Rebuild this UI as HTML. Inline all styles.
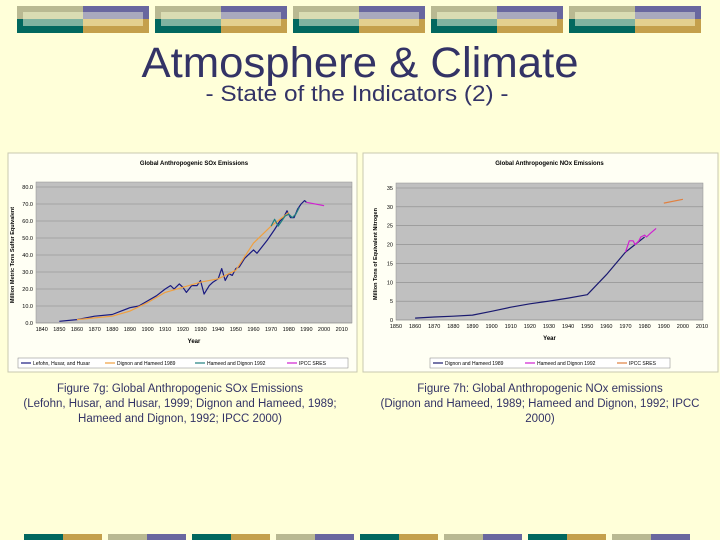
<!DOCTYPE html>
<html><head><meta charset="utf-8"><style>
body{margin:0;background:#ffffd9;}
svg{display:block;font-family:"Liberation Sans",sans-serif;}
</style></head><body>
<svg width="720" height="540" viewBox="0 0 720 540">
<rect width="720" height="540" fill="#ffffd9"/>
<g id="topband"></g>
<g id="botband"></g>
<text x="360" y="77" text-anchor="middle" font-size="43" fill="#333366" textLength="437" lengthAdjust="spacingAndGlyphs">Atmosphere &amp; Climate</text>
<text x="357" y="101" text-anchor="middle" font-size="22" fill="#333366" textLength="303" lengthAdjust="spacingAndGlyphs">- State of the Indicators (2) -</text>

<rect x="8" y="153" width="349" height="219" fill="#fffff4" stroke="#c8c8b0"/>
<rect x="363" y="153" width="355" height="219" fill="#fffff4" stroke="#c8c8b0"/>
<g id="chart1"></g>
<g id="chart2"></g>

<g font-size="11.5" fill="#333366" text-anchor="middle">
<text x="180" y="392">Figure 7g: Global Anthropogenic SOx Emissions</text>
<text x="180" y="407">(Lefohn, Husar, and Husar, 1999; Dignon and Hameed, 1989;</text>
<text x="180" y="422">Hameed and Dignon, 1992; IPCC 2000)</text>
</g>
<g font-size="11.5" fill="#333366" text-anchor="middle">
<text x="540" y="392">Figure 7h: Global Anthropogenic NOx emissions</text>
<text x="540" y="407">(Dignon and Hameed, 1989; Hameed and Dignon, 1992; IPCC</text>
<text x="540" y="422">2000)</text>
</g>
</svg>
<script>
// SOx data (million metric tons sulfur equivalent)
const soxLefohnYears=[1850,1860,1870,1880,1885,1890,1895,1900,1905,1910,1913,1915,1918,1920,1922,1925,1928,1930,1932,1935,1937,1940,1942,1944,1946,1948,1950,1952,1955,1958,1960,1962,1965,1968,1970,1972,1975,1977,1979,1981,1983,1985,1987,1989,1990];
const soxLefohnVals=[1,2,4,5,7,9,10,13,16,20,22,20,23,21,18,22,22,25,17,22,24,26,32,25,29,28,32,33,38,41,43,41,45,49,52,55,60,62,66,62,62,67,70,72,71];
const soxDignonYears=[1860,1870,1880,1890,1900,1910,1920,1930,1940,1950,1960,1970,1980];
const soxDignonVals=[2,3,4,7,12,18,21,24,26,31,47,57,65];
const soxHameedYears=[1970,1972,1974,1976,1978,1980,1982,1984,1986];
const soxHameedVals=[57,61,57,60,63,64,62,64,68];
const soxIpccYears=[1990,2000];
const soxIpccVals=[71,69];
const soxYTicks=["0.0","10.0","20.0","30.0","40.0","50.0","60.0","70.0","80.0"];
const soxXTicks=[1840,1850,1860,1870,1880,1890,1900,1910,1920,1930,1940,1950,1960,1970,1980,1990,2000,2010];
// NOx data (million tons equivalent nitrogen)
const noxDignonYears=[1860,1870,1880,1890,1900,1910,1920,1930,1940,1950,1960,1970,1980];
const noxDignonVals=[0.5,0.8,1,1.3,2.3,3.4,4.3,5,5.8,6.7,12,18,22];
const noxHameedYears=[1970,1972,1974,1975,1977,1978,1980,1981,1983,1986];
const noxHameedVals=[18,21,21,20,21,22,22.5,22,23,24.3];
const noxIpccYears=[1990,2000];
const noxIpccVals=[31,32];
const noxYTicks=["0","5","10","15","20","25","30","35"];
const noxXTicks=[1850,1860,1870,1880,1890,1900,1910,1920,1930,1940,1950,1960,1970,1980,1990,2000,2010];

const NS="http://www.w3.org/2000/svg";
function mk(parent,tag,attrs,text){const e=document.createElementNS(NS,tag);for(const k in attrs)e.setAttribute(k,attrs[k]);if(text!==undefined)e.textContent=text;parent.appendChild(e);return e;}

// decorations
const tb=document.getElementById('topband');
for(let i=0;i<5;i++){
  const x=17+138*i;
  let e;
  e=mk(tb,'rect',{x:x,y:6,width:66,height:13,fill:'#b9b992'});
  e=mk(tb,'rect',{x:x+66,y:6,width:66,height:13,fill:'#69679f'});
  e=mk(tb,'rect',{x:x,y:19,width:66,height:14,fill:'#02685f'});
  e=mk(tb,'rect',{x:x+66,y:19,width:66,height:14,fill:'#c4a04c'});
  e=mk(tb,'rect',{x:x+6,y:12,width:60,height:7,fill:'#dadcb3'});
  e=mk(tb,'rect',{x:x+66,y:12,width:60,height:7,fill:'#a9a9bd'});
  e=mk(tb,'rect',{x:x+6,y:19,width:60,height:7,fill:'#80b3a0'});
  e=mk(tb,'rect',{x:x+66,y:19,width:60,height:7,fill:'#e3d08f'});
}
const bb=document.getElementById('botband');
for(let i=0;i<8;i++){
  const x=24+84*i;const c=i%2===0?['#02685f','#c4a04c']:['#b9b992','#69679f'];
  let e=mk(bb,'rect',{x:x,y:534,width:39,height:6,fill:c[0]});
  e=mk(bb,'rect',{x:x+39,y:534,width:39,height:6,fill:c[1]});
}

function chart(g,cfg){
  const {L,R,T,B,x0,x1,ymax}=cfg;
  const xs=v=>cfg.px0+(v-x0)/(x1-x0)*(cfg.px1-cfg.px0);
  const ys=v=>B-v/ymax*(B-T);
  let e=mk(g,'rect',{x:L,y:T-5,width:R-L,height:B-T+5,fill:'#c0c0c0',stroke:'#909090','stroke-width':0.5});
  
  cfg.yTicks.forEach((t,i)=>{
    const y=ys(parseFloat(t));
    let l=mk(g,'line',{x1:L,x2:R,y1:y,y2:y,stroke:'#8a8a8a','stroke-width':0.6});
    
    let tx=mk(g,'text',{x:L-3,y:y+2,'font-size':5.5,'text-anchor':'end',fill:'#000'},t);
    
  });
  cfg.xTicks.forEach(t=>{
    let tx=mk(g,'text',{x:xs(t),y:B+8,'font-size':5.5,'text-anchor':'middle',fill:'#000'},t);
    
  });
  let t=mk(g,'text',{x:(L+R)/2,y:cfg.titleY,'font-size':6,'font-weight':'bold','text-anchor':'middle'},cfg.title);
  
  t=mk(g,'text',{x:(L+R)/2,y:B+20,'font-size':6,'font-weight':'bold','text-anchor':'middle'},'Year');
  
  t=mk(g,'text',{x:0,y:0,'font-size':5.5,'font-weight':'bold','text-anchor':'middle',transform:`translate(${cfg.yTitleX},${(T+B)/2}) rotate(-90)`},cfg.yTitle);
  
  cfg.series.forEach(s=>{
    const pts=s.xs.map((x,i)=>xs(x).toFixed(1)+','+ys(s.ys[i]).toFixed(1)).join(' ');
    let p=mk(g,'polyline',{points:pts,fill:'none',stroke:s.color,'stroke-width':1.2,'stroke-linejoin':'round'});
    
  });
  const lg=mk(g,'g',{});
  
  mk(lg,'rect',{x:cfg.legX,y:cfg.legY,width:cfg.legW,height:10,fill:'#fff',stroke:'#808080','stroke-width':0.5});
  let lx=cfg.legX+3;
  cfg.series.forEach(s=>{
    const it=mk(lg,'g',{});
    
    mk(it,'line',{x1:lx,x2:lx+10,y1:cfg.legY+5,y2:cfg.legY+5,stroke:s.color,'stroke-width':1.2});
    mk(it,'text',{x:lx+12,y:cfg.legY+7,'font-size':5,fill:'#000'},s.label);
    lx+=s.lw;
  });
}

chart(document.getElementById('chart1'),{L:36,R:352,T:187,B:323,x0:1840,x1:2010,px0:41.7,px1:341.7,ymax:80,
  yTicks:soxYTicks,xTicks:soxXTicks,title:'Global Anthropogenic SOx Emissions',titleY:165,
  yTitle:'Million Metric Tons Sulfur Equivalent',yTitleX:14,
  legX:18,legY:358,legW:330,
  series:[
    {name:'lefohn',xs:soxLefohnYears,ys:soxLefohnVals,color:'#1a1a80',label:'Lefohn, Husar, and Husar',lw:84},
    {name:'dignon',xs:soxDignonYears,ys:soxDignonVals,color:'#f0a040',label:'Dignon and Hameed 1989',lw:90},
    {name:'hameed',xs:soxHameedYears,ys:soxHameedVals,color:'#208080',label:'Hameed and Dignon 1992',lw:92},
    {name:'ipcc',xs:soxIpccYears,ys:soxIpccVals,color:'#d020d0',label:'IPCC SRES',lw:50}
  ]});
chart(document.getElementById('chart2'),{L:396,R:703,T:188,B:320,x0:1850,x1:2010,px0:396,px1:702,ymax:35,
  yTicks:noxYTicks,xTicks:noxXTicks,title:'Global Anthropogenic NOx Emissions',titleY:165,
  yTitle:'Million Tons of Equivalent Nitrogen',yTitleX:377,
  legX:430,legY:358,legW:240,
  series:[
    {name:'dignon',xs:noxDignonYears,ys:noxDignonVals,color:'#1a1a70',label:'Dignon and Hameed 1989',lw:92},
    {name:'hameed',xs:noxHameedYears,ys:noxHameedVals,color:'#d020d0',label:'Hameed and Dignon 1992',lw:92},
    {name:'ipcc',xs:noxIpccYears,ys:noxIpccVals,color:'#e08040',label:'IPCC SRES',lw:50}
  ]});
</script>
</body></html>
